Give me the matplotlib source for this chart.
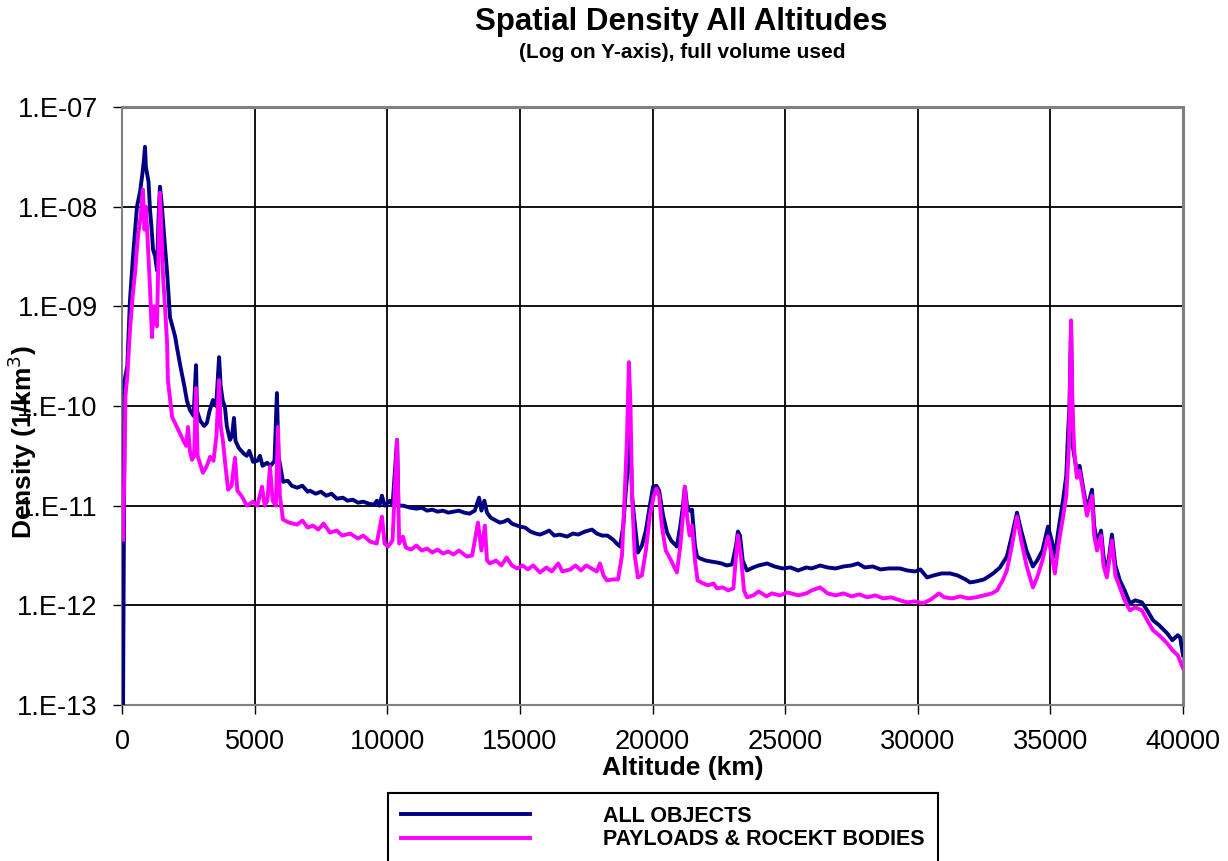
import numpy as np
import matplotlib
matplotlib.use("Agg")
import matplotlib.pyplot as plt
from matplotlib.ticker import FixedLocator, FuncFormatter

plt.rcParams['font.family'] = ['Liberation Sans', 'DejaVu Sans']

# altitude (km) and log10 of spatial density (1/km^3)
all_alt = [40, 100, 200, 300, 415, 565, 680, 755, 820, 867, 900, 940, 1000, 1055, 1110, 1170,
           1250, 1320, 1380, 1430, 1490, 1550, 1620, 1700, 1760, 1810, 1900, 2000, 2070, 2200,
           2350, 2450, 2560, 2700, 2790, 2830, 2950, 3100, 3200, 3300, 3430, 3550, 3660, 3720,
           3800, 3880, 3950, 4070, 4150, 4220, 4280, 4400, 4560, 4700, 4800, 4940, 5100, 5200,
           5300, 5470, 5600, 5750, 5840, 5900, 6070, 6250, 6400, 6600, 6800, 7000, 7090, 7300,
           7500, 7700, 7900, 8100, 8330, 8500, 8700, 8900, 9100, 9300, 9500, 9610, 9700, 9800,
           9900, 10100, 10200, 10370, 10420, 10600, 10860, 11100, 11300, 11500, 11700, 11900,
           12100, 12300, 12500, 12700, 12900, 13100, 13300, 13460, 13550, 13660, 13760, 13900,
           14100, 14250, 14400, 14550, 14700, 15000, 15200, 15400, 15600, 15760, 15950, 16100,
           16300, 16500, 16780, 17000, 17200, 17450, 17720, 17900, 18100, 18300, 18510, 18650,
           18780, 18900, 18980, 19040, 19100, 19160, 19230, 19300, 19450, 19600, 19750, 19900,
           20020, 20150, 20250, 20400, 20550, 20700, 20920, 21050, 21150, 21220, 21300, 21400,
           21490, 21600, 21680, 21800, 22000, 22200, 22430, 22600, 22800, 23000, 23150, 23220,
           23300, 23400, 23560, 23800, 24000, 24320, 24600, 24900, 25200, 25490, 25800, 26000,
           26320, 26600, 26900, 27200, 27500, 27750, 28000, 28300, 28600, 28900, 29330, 29600,
           29900, 30100, 30350, 30600, 30900, 31220, 31500, 31800, 31970, 32200, 32500, 32840,
           33100, 33360, 33550, 33740, 33900, 34100, 34340, 34500, 34700, 34910, 35050, 35170,
           35300, 35480, 35600, 35660, 35720, 35780, 35850, 36000, 36100, 36230, 36380, 36570,
           36650, 36760, 36910, 37000, 37130, 37320, 37450, 37620, 37800, 38000, 38200, 38450,
           38650, 38870, 39100, 39400, 39600, 39800, 39890, 40000]
all_log10 = [-13.0, -9.74, -9.6, -8.94, -8.5, -8.0, -7.85, -7.70, -7.55, -7.40, -7.6, -7.66, -7.75,
             -8.03, -8.2, -8.43, -8.5, -8.64, -8.1, -7.80, -7.95, -8.16, -8.4, -8.66, -8.9, -9.11,
             -9.2, -9.3, -9.41, -9.6, -9.8, -9.95, -10.04, -10.1, -9.59, -10.05, -10.15, -10.2,
             -10.17, -10.05, -9.94, -10.0, -9.51, -9.8, -9.95, -10.01, -10.2, -10.34, -10.3,
             -10.12, -10.35, -10.42, -10.47, -10.5, -10.45, -10.56, -10.55, -10.5, -10.6, -10.57,
             -10.6, -10.55, -9.87, -10.5, -10.76, -10.75, -10.8, -10.82, -10.8, -10.86, -10.85,
             -10.88, -10.86, -10.9, -10.88, -10.93, -10.92, -10.95, -10.94, -10.97, -10.96,
             -10.98, -10.99, -10.95, -11.0, -10.9, -11.0, -10.95, -11.0, -10.34, -11.0, -11.0,
             -11.02, -11.03, -11.02, -11.05, -11.04, -11.06, -11.05, -11.07, -11.06, -11.05,
             -11.07, -11.08, -11.05, -10.92, -11.05, -10.95, -11.07, -11.12, -11.15, -11.17,
             -11.16, -11.14, -11.18, -11.21, -11.22, -11.26, -11.28, -11.29, -11.27, -11.25,
             -11.3, -11.29, -11.31, -11.28, -11.29, -11.26, -11.24, -11.28, -11.3, -11.3, -11.34,
             -11.38, -11.41, -11.2, -10.9, -10.71, -10.0, -10.3, -10.9, -11.1, -11.47, -11.4,
             -11.25, -11.0, -10.81, -10.8, -10.85, -11.1, -11.27, -11.35, -11.41, -11.2, -11.0,
             -10.81, -11.0, -11.05, -11.04, -11.4, -11.51, -11.53, -11.55, -11.56, -11.57,
             -11.58, -11.6, -11.59, -11.4, -11.26, -11.3, -11.55, -11.65, -11.62, -11.6, -11.58,
             -11.61, -11.63, -11.62, -11.65, -11.62, -11.63, -11.60, -11.62, -11.63, -11.61,
             -11.6, -11.58, -11.62, -11.61, -11.64, -11.63, -11.63, -11.65, -11.66, -11.64,
             -11.72, -11.7, -11.68, -11.68, -11.7, -11.74, -11.77, -11.76, -11.74, -11.68,
             -11.62, -11.51, -11.3, -11.07, -11.25, -11.45, -11.61, -11.55, -11.45, -11.21,
             -11.35, -11.51, -11.25, -10.94, -10.7, -10.31, -10.0, -9.2, -10.41, -10.67, -10.6,
             -10.81, -11.04, -10.84, -11.2, -11.37, -11.25, -11.5, -11.68, -11.29, -11.6, -11.75,
             -11.85, -11.98, -11.95, -11.97, -12.05, -12.15, -12.2, -12.28, -12.35, -12.3,
             -12.32, -12.5]

pl_alt = [40, 100, 130, 200, 300, 400, 490, 600, 700, 790, 850, 900, 960, 1055, 1130, 1200, 1320,
          1380, 1432, 1480, 1550, 1620, 1700, 1730, 1800, 1890, 2070, 2300, 2420, 2490, 2560, 2640,
          2720, 2790, 2850, 3050, 3200, 3320, 3450, 3560, 3660, 3720, 3800, 3900, 4000, 4130,
          4260, 4350, 4500, 4710, 4940, 5100, 5280, 5380, 5480, 5580, 5680, 5800, 5880, 5950,
          6070, 6300, 6600, 6800, 7000, 7200, 7400, 7600, 7840, 8100, 8300, 8600, 8900, 9100,
          9350, 9600, 9800, 9900, 10030, 10200, 10370, 10450, 10590, 10700, 10900, 11100, 11300,
          11500, 11700, 11900, 12100, 12300, 12500, 12700, 13000, 13200, 13420, 13550, 13680,
          13760, 13870, 14100, 14300, 14500, 14700, 14890, 15100, 15300, 15500, 15760, 16000,
          16200, 16450, 16600, 16900, 17100, 17300, 17500, 17700, 17900, 18020, 18150, 18280,
          18500, 18700, 18850, 18950, 19040, 19110, 19170, 19230, 19330, 19450, 19600, 19750,
          19900, 20050, 20150, 20250, 20350, 20500, 20700, 20920, 21050, 21150, 21220, 21300,
          21400, 21490, 21600, 21700, 21900, 22100, 22300, 22430, 22650, 22850, 23050, 23150,
          23220, 23330, 23450, 23560, 23800, 24000, 24300, 24500, 24800, 25100, 25490, 25800,
          26000, 26320, 26600, 26900, 27200, 27500, 27800, 28100, 28400, 28700, 29000, 29330,
          29600, 29900, 30200, 30500, 30800, 31000, 31300, 31600, 31900, 32200, 32500, 32800,
          32990, 33200, 33360, 33550, 33740, 33900, 34100, 34340, 34500, 34700, 34910, 35050,
          35170, 35300, 35480, 35600, 35700, 35780, 35830, 35900, 36000, 36100, 36230, 36380,
          36570, 36650, 36760, 36910, 37000, 37130, 37320, 37450, 37620, 37800, 38000, 38200,
          38450, 38650, 38870, 39100, 39400, 39600, 39800, 40000]
pl_log10 = [-11.34, -10.5, -9.9, -9.7, -9.24, -8.9, -8.67, -8.30, -8.1, -7.83, -8.23, -8.0, -8.3,
            -8.81, -9.31, -9.0, -9.2, -8.4, -7.86, -8.2, -8.71, -9.0, -9.37, -9.74, -9.9, -10.11,
            -10.21, -10.34, -10.4, -10.21, -10.45, -10.54, -10.5, -9.82, -10.5, -10.67, -10.6,
            -10.51, -10.55, -10.3, -9.74, -10.2, -10.34, -10.6, -10.84, -10.8, -10.52, -10.85,
            -10.9, -11.0, -10.96, -11.0, -10.81, -11.0, -10.95, -10.61, -10.95, -11.0, -10.21,
            -10.9, -11.14, -11.17, -11.19, -11.15, -11.22, -11.2, -11.24, -11.18, -11.27, -11.25,
            -11.3, -11.28, -11.33, -11.3, -11.36, -11.38, -11.11, -11.38, -11.41, -11.35, -10.34,
            -11.38, -11.31, -11.42, -11.44, -11.4, -11.45, -11.43, -11.47, -11.44, -11.48, -11.46,
            -11.49, -11.45, -11.51, -11.5, -11.17, -11.45, -11.2, -11.55, -11.58, -11.55, -11.6,
            -11.52, -11.6, -11.63, -11.6, -11.64, -11.6, -11.67, -11.62, -11.66, -11.58, -11.66,
            -11.64, -11.6, -11.65, -11.6, -11.63, -11.66, -11.58, -11.7, -11.75, -11.74, -11.74,
            -11.5, -10.9, -10.3, -9.56, -10.0, -10.9, -11.5, -11.72, -11.7, -11.45, -11.1, -10.9,
            -10.83, -10.9, -11.2, -11.45, -11.55, -11.67, -11.4, -11.1, -10.81, -11.1, -11.3,
            -11.2, -11.55, -11.75, -11.78, -11.8, -11.78, -11.83, -11.82, -11.85, -11.83, -11.5,
            -11.3, -11.5, -11.85, -11.92, -11.9, -11.86, -11.91, -11.88, -11.9, -11.87, -11.9,
            -11.88, -11.85, -11.82, -11.88, -11.9, -11.88, -11.91, -11.89, -11.92, -11.9, -11.93,
            -11.92, -11.95, -11.97, -11.96, -11.98, -11.94, -11.88, -11.92, -11.93, -11.91,
            -11.93, -11.92, -11.9, -11.88, -11.85, -11.75, -11.65, -11.4, -11.11, -11.35, -11.6,
            -11.82, -11.72, -11.55, -11.31, -11.5, -11.68, -11.4, -11.11, -10.9, -10.4, -9.14,
            -10.0, -10.45, -10.72, -10.65, -10.85, -11.1, -10.9, -11.3, -11.45, -11.3, -11.6,
            -11.72, -11.35, -11.7, -11.82, -11.95, -12.05, -12.02, -12.05, -12.15, -12.25, -12.3,
            -12.38, -12.45, -12.5, -12.63]

decades = [-13, -12, -11, -10, -9, -8, -7]

fig = plt.figure(figsize=(12.28, 8.61), dpi=100)
ax = fig.add_axes([122 / 1228, 1 - 705 / 861, 1061 / 1228, 598 / 861])

ax.plot(all_alt, 10.0 ** np.array(all_log10), color='#000080', lw=2.8, label='ALL OBJECTS', zorder=3)
ax.plot(pl_alt, 10.0 ** np.array(pl_log10), color='#FF00FF', lw=2.8,
        label='PAYLOADS & ROCEKT BODIES', zorder=4)

ax.set_yscale('log')
ax.set_xlim(0, 40000)
ax.set_ylim(1e-13, 1e-7)
ax.set_xticks(np.arange(0, 40001, 5000))
ax.yaxis.set_major_locator(FixedLocator([10.0 ** d for d in decades]))
ax.yaxis.set_minor_locator(FixedLocator([]))
ax.yaxis.set_major_formatter(FuncFormatter(lambda v, p: '1.E-%02d' % round(-np.log10(v))))
ax.tick_params(labelsize=19.5, length=6.5, width=1, color='black', pad=11)

ax.set_axisbelow(True)
ax.grid(True, which='major', color='black', lw=1.3)
for side, w in (('left', 1.5), ('bottom', 1.5), ('top', 2.2), ('right', 2.2)):
    ax.spines[side].set_color('#808080')
    ax.spines[side].set_linewidth(w)

fig.text(681 / 1228, 1 - 22 / 861, 'Spatial Density All Altitudes', ha='center', va='center',
         fontsize=22.5, fontweight='bold')
fig.text(682 / 1228, 1 - 53 / 861, '(Log on Y-axis), full volume used', ha='center', va='center',
         fontsize=15, fontweight='bold')
fig.text(683 / 1228, 1 - 768 / 861, 'Altitude (km)', ha='center', va='center',
         fontsize=19, fontweight='bold')
# the reference lets this label run over the tick labels
fig.text(22 / 1228, 1 - 442 / 861, 'Density (1/km$^3$)', ha='center', va='center',
         rotation=90, fontsize=19, fontweight='bold')

leg = ax.legend(loc='upper left', bbox_to_anchor=(388 / 1228, 1 - 793 / 861),
                bbox_transform=fig.transFigure, borderaxespad=0, handlelength=6.0,
                handletextpad=3.4, borderpad=0.6, labelspacing=0.1, fancybox=False,
                framealpha=1, edgecolor='black', prop={'weight': 'bold', 'size': 15.5})
leg.get_frame().set_linewidth(1.5)

fig.savefig('out.png', dpi=100)
